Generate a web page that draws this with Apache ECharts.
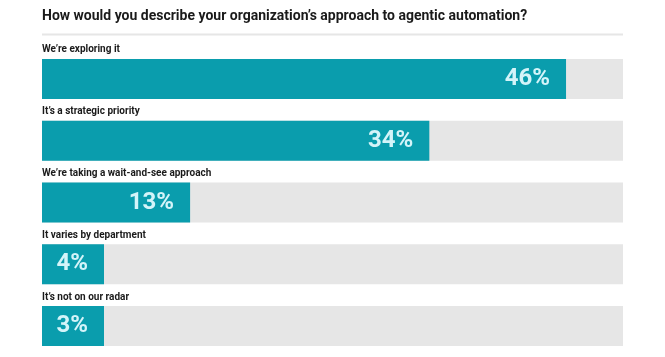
<!DOCTYPE html>
<html>
<head>
<meta charset="utf-8">
<script src="https://cdn.jsdelivr.net/npm/echarts@6/dist/echarts.min.js"></script>
<style>
html,body{margin:0;padding:0;background:#fff;}
#chart{width:665px;height:357px;}
</style>
</head>
<body>
<div id="chart"></div>
<script>
const titleText = "How would you describe your organization\u2019s approach to agentic automation?";
const categories = [
  "We\u2019re exploring it",
  "It\u2019s a strategic priority",
  "We\u2019re taking a wait-and-see approach",
  "It varies by department",
  "It\u2019s not on our radar"
];
const values = [46, 34, 13, 4, 3];
const axisMax = 51;

const chart = echarts.init(document.getElementById('chart'), null, {renderer: 'canvas'});
chart.setOption({
  animation: false,
  backgroundColor: '#ffffff',
  title: {
    text: titleText,
    left: 37,
    top: 4,
    textStyle: {fontFamily: 'Roboto', fontWeight: 'bold', fontSize: 14, color: '#1a1a1a'}
  },
  graphic: [{
    type: 'rect',
    shape: {x: 42, y: 33.5, width: 581, height: 2},
    style: {fill: '#e6e6e6'},
    silent: true
  }],
  grid: {left: 42, right: 42, top: 48, bottom: 0, containLabel: false},
  xAxis: {
    type: 'value', min: 0, max: axisMax, show: false
  },
  yAxis: {
    type: 'category', data: categories, inverse: true,
    axisLine: {show: false}, axisTick: {show: false}, axisLabel: {show: false}, splitLine: {show: false}
  },
  series: [
    {
      type: 'bar',
      data: values,
      barWidth: 40,
      barMinHeight: 62,
      showBackground: true,
      backgroundStyle: {color: '#e6e6e6'},
      itemStyle: {color: '#0a9dad'},
      label: {
        show: true,
        position: 'insideRight',
        distance: 16,
        formatter: '{c}%',
        fontFamily: 'Roboto',
        fontWeight: 'bold',
        fontSize: 24,
        color: '#d4f4f9'
      },
      z: 2
    },
    {
      type: 'bar',
      data: values,
      barWidth: 40,
      barMinHeight: 62,
      barGap: '-100%',
      itemStyle: {color: 'rgba(0,0,0,0)'},
      silent: true,
      label: {
        show: true,
        position: [0, -9],
        align: 'left',
        verticalAlign: 'middle',
        formatter: '{b}',
        fontFamily: 'Roboto',
        fontWeight: 'bold',
        fontSize: 10,
        color: '#1a1a1a'
      },
      z: 3
    }
  ]
});
</script>
</body>
</html>
